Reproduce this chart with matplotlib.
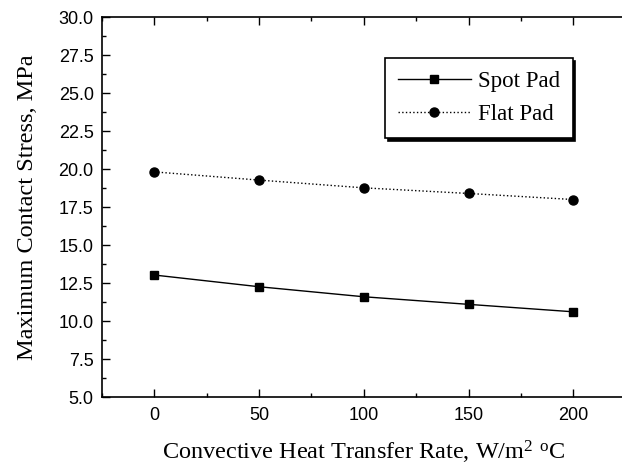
import numpy as np
import matplotlib
matplotlib.use('Agg')
import matplotlib.pyplot as plt
from matplotlib.ticker import MultipleLocator, FormatStrFormatter

rate = [0, 50, 100, 150, 200]
spot_pad = [13.03, 12.26, 11.60, 11.10, 10.61]
flat_pad = [19.82, 19.28, 18.77, 18.40, 18.00]

plt.rcParams['xtick.direction'] = 'in'
plt.rcParams['ytick.direction'] = 'in'
plt.rcParams['mathtext.fontset'] = 'custom'
plt.rcParams['mathtext.rm'] = 'Liberation Serif'
plt.rcParams['mathtext.it'] = 'Liberation Serif'

fig = plt.figure(figsize=(6.22, 4.66), dpi=100)
ax = fig.add_axes([0.164, 0.148, 0.842, 0.815])

ax.plot(rate, spot_pad, '-s', color='black', linewidth=1.0, markersize=6, label='Spot Pad')
ax.plot(rate, flat_pad, ':o', color='black', linewidth=1.0, markersize=6.5, label='Flat Pad')

ax.set_xlim(-25, 225)
ax.set_ylim(5, 30)
ax.xaxis.set_major_locator(MultipleLocator(50))
ax.xaxis.set_minor_locator(MultipleLocator(25))
ax.yaxis.set_major_locator(MultipleLocator(2.5))
ax.yaxis.set_minor_locator(MultipleLocator(1.25))
ax.yaxis.set_major_formatter(FormatStrFormatter('%.1f'))

ax.tick_params(which='major', length=6, width=1, top=True, labelsize=13)
ax.tick_params(axis='x', which='major', pad=7)
ax.tick_params(axis='y', which='major', pad=6)
ax.tick_params(which='minor', length=3, width=1, top=True)
for lab in ax.get_xticklabels() + ax.get_yticklabels():
    lab.set_family('Liberation Sans')

for s in ax.spines.values():
    s.set_linewidth(1.2)

ax.set_xlabel('Convective Heat Transfer Rate, W/m$^2$ $^{\\rm o}$C', fontsize=17.5,
              family='Liberation Serif', labelpad=11)
ax.set_ylabel('Maximum Contact Stress, MPa', fontsize=17.5,
              family='Liberation Serif', labelpad=15)

leg = ax.legend(loc='upper left', bbox_to_anchor=(385 / 622, 1 - 58 / 466),
                bbox_transform=fig.transFigure, frameon=True, fancybox=False,
                shadow={'color': 'black', 'alpha': 1}, edgecolor='black',
                prop={'family': 'Liberation Serif', 'size': 16.5}, borderaxespad=0,
                handlelength=3.2, borderpad=0.55, labelspacing=0.55, handletextpad=0.3)
leg.get_frame().set_linewidth(1.2)
leg.get_frame().set_alpha(1)

fig.savefig('out.png', dpi=100)
